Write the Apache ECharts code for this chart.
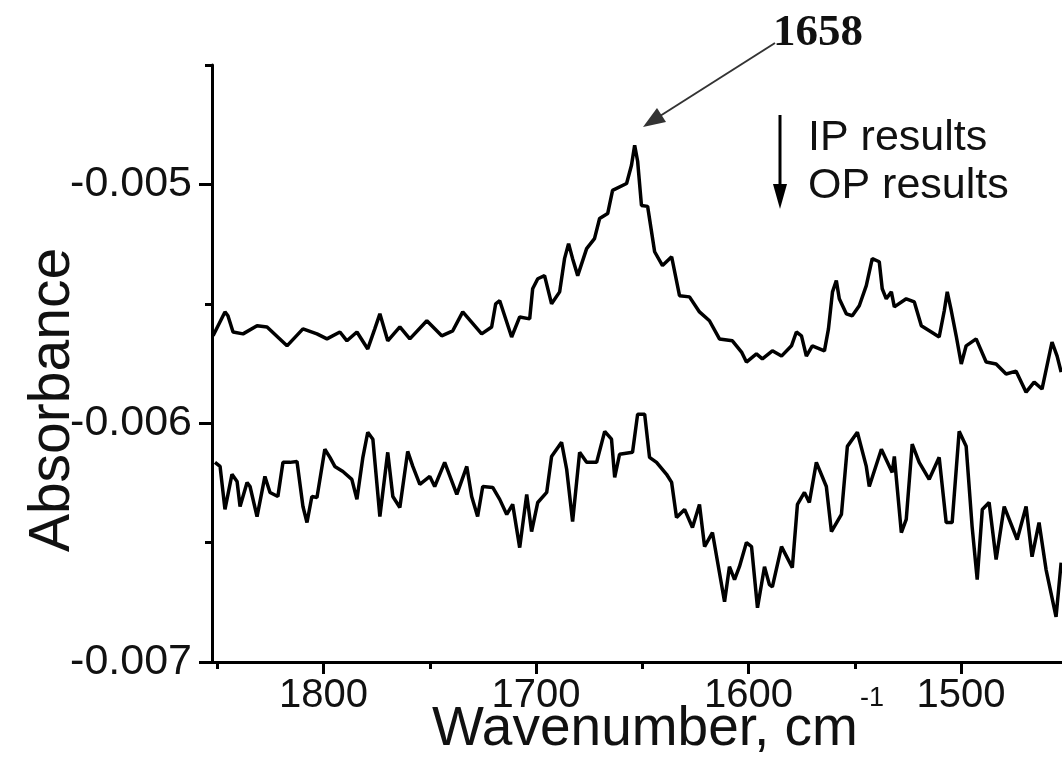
<!DOCTYPE html>
<html>
<head>
<meta charset="utf-8">
<script src="https://cdn.jsdelivr.net/npm/echarts@6/dist/echarts.min.js"></script>
<style>
html, body { margin: 0; padding: 0; background: #fff; }
#main { width: 1062px; height: 761px; }
</style>
</head>
<body>
<div id="main"></div>
<script>
// IP results (upper trace)
var ipWave = [1852.0, 1846.4, 1845.0, 1842.6, 1837.9, 1831.3, 1826.6, 1817.2, 1809.7, 1803.1,
    1798.4, 1792.3, 1789.0, 1784.3, 1779.2, 1775.9, 1773.5, 1769.8, 1764.1, 1759.4,
    1751.4, 1744.4, 1739.2, 1734.5, 1725.6, 1720.9, 1719.0, 1717.1, 1711.5, 1707.7,
    1703.0, 1701.6, 1699.2, 1696.0, 1692.7, 1688.9, 1686.6, 1684.7, 1682.8, 1680.4,
    1676.2, 1672.5, 1670.1, 1666.3, 1664.0, 1657.4, 1655.1, 1653.6, 1652.2, 1650.4,
    1647.5, 1644.2, 1640.5, 1636.2, 1632.5, 1627.8, 1623.1, 1618.4, 1613.7, 1607.6,
    1603.3, 1601.0, 1596.3, 1593.5, 1588.8, 1584.5, 1579.8, 1577.5, 1575.1, 1572.8,
    1570.0, 1564.3, 1562.4, 1560.5, 1558.7, 1557.3, 1554.0, 1551.2, 1547.9, 1544.6,
    1541.8, 1538.5, 1537.1, 1535.2, 1532.8, 1531.4, 1525.8, 1522.0, 1518.7, 1514.0,
    1510.3, 1507.9, 1506.5, 1504.6, 1502.3, 1499.9, 1497.6, 1492.9, 1488.2, 1483.5,
    1478.8, 1474.1, 1469.4, 1465.6, 1461.9, 1457.2, 1454.8, 1452.9];
var ipAbs = [-0.005634, -0.005534, -0.005550, -0.005618, -0.005626, -0.005592, -0.005597, -0.005676, -0.005605, -0.005626,
    -0.005647, -0.005618, -0.005655, -0.005618, -0.005689, -0.005605, -0.005542, -0.005655, -0.005597, -0.005647,
    -0.005571, -0.005634, -0.005613, -0.005534, -0.005626, -0.005597, -0.005500, -0.005487, -0.005639, -0.005555,
    -0.005563, -0.005437, -0.005395, -0.005382, -0.005500, -0.005450, -0.005311, -0.005248, -0.005311, -0.005382,
    -0.005269, -0.005227, -0.005143, -0.005122, -0.005025, -0.004996, -0.004920, -0.004836, -0.004903, -0.005088,
    -0.005092, -0.005282, -0.005340, -0.005303, -0.005466, -0.005471, -0.005534, -0.005571, -0.005647, -0.005655,
    -0.005702, -0.005744, -0.005710, -0.005731, -0.005697, -0.005719, -0.005676, -0.005618, -0.005634, -0.005719,
    -0.005676, -0.005697, -0.005605, -0.005450, -0.005403, -0.005479, -0.005542, -0.005550, -0.005508, -0.005424,
    -0.005311, -0.005324, -0.005437, -0.005479, -0.005450, -0.005513, -0.005479, -0.005492, -0.005592, -0.005618,
    -0.005639, -0.005529, -0.005450, -0.005529, -0.005634, -0.005752, -0.005676, -0.005647, -0.005744, -0.005752,
    -0.005794, -0.005782, -0.005870, -0.005828, -0.005857, -0.005660, -0.005719, -0.005786];

// OP results (lower trace)
var opWave = [1851.1, 1848.7, 1846.4, 1843.1, 1840.7, 1839.3, 1836.0, 1834.6, 1831.3, 1827.6,
    1825.2, 1821.5, 1819.1, 1815.8, 1812.5, 1809.7, 1807.8, 1805.5, 1803.1, 1799.4,
    1797.0, 1794.7, 1790.9, 1786.7, 1784.3, 1781.5, 1779.2, 1776.8, 1773.5, 1769.8,
    1767.4, 1764.1, 1760.4, 1758.0, 1754.7, 1750.0, 1747.7, 1743.0, 1737.3, 1732.6,
    1730.3, 1727.5, 1725.1, 1720.4, 1717.1, 1713.8, 1711.0, 1707.7, 1704.4, 1702.1,
    1699.2, 1695.0, 1692.7, 1688.0, 1685.6, 1682.8, 1679.5, 1676.2, 1671.5, 1667.7,
    1664.5, 1663.0, 1660.7, 1654.6, 1652.2, 1648.9, 1646.6, 1643.3, 1638.6, 1636.2,
    1633.9, 1630.1, 1626.4, 1623.1, 1620.7, 1617.0, 1614.6, 1611.3, 1609.0, 1606.6,
    1604.3, 1601.0, 1598.6, 1595.8, 1592.5, 1590.2, 1588.8, 1584.5, 1579.4, 1577.0,
    1573.7, 1571.4, 1568.1, 1563.4, 1561.0, 1556.3, 1553.5, 1548.8, 1544.6, 1543.2,
    1537.5, 1532.4, 1531.4, 1528.1, 1525.8, 1523.0, 1519.7, 1515.0, 1510.3, 1507.0,
    1504.2, 1500.9, 1497.6, 1494.8, 1492.4, 1490.0, 1486.8, 1483.5, 1479.7, 1473.6,
    1469.4, 1466.6, 1463.3, 1460.0, 1455.3, 1452.9];
var opAbs = [-0.006164, -0.006181, -0.006361, -0.006214, -0.006244, -0.006349, -0.006248, -0.006265, -0.006391, -0.006223,
    -0.006290, -0.006307, -0.006164, -0.006164, -0.006160, -0.006349, -0.006416, -0.006307, -0.006311, -0.006109,
    -0.006143, -0.006181, -0.006202, -0.006235, -0.006319, -0.006143, -0.006038, -0.006067, -0.006391, -0.006122,
    -0.006307, -0.006353, -0.006118, -0.006181, -0.006256, -0.006223, -0.006265, -0.006164, -0.006298, -0.006181,
    -0.006307, -0.006391, -0.006265, -0.006269, -0.006319, -0.006382, -0.006340, -0.006521, -0.006298, -0.006454,
    -0.006332, -0.006290, -0.006139, -0.006080, -0.006193, -0.006412, -0.006122, -0.006164, -0.006164, -0.006034,
    -0.006067, -0.006227, -0.006130, -0.006122, -0.005962, -0.005962, -0.006143, -0.006164, -0.006214, -0.006248,
    -0.006395, -0.006361, -0.006437, -0.006340, -0.006517, -0.006458, -0.006580, -0.006748, -0.006601, -0.006655,
    -0.006601, -0.006500, -0.006517, -0.006773, -0.006601, -0.006676, -0.006685, -0.006517, -0.006605, -0.006340,
    -0.006290, -0.006332, -0.006164, -0.006265, -0.006454, -0.006382, -0.006097, -0.006038, -0.006181, -0.006265,
    -0.006109, -0.006206, -0.006139, -0.006458, -0.006403, -0.006088, -0.006164, -0.006235, -0.006143, -0.006416,
    -0.006416, -0.006034, -0.006097, -0.006433, -0.006655, -0.006361, -0.006332, -0.006571, -0.006349, -0.006487,
    -0.006349, -0.006559, -0.006416, -0.006613, -0.006811, -0.006584];

var xMajor = [1800, 1700, 1600, 1500];
var xMinor = [1850, 1750, 1650, 1550];
var yMajor = [-0.007, -0.006, -0.005];
var yMinor = [-0.0065, -0.0055, -0.0045];

function pairs(xs, ys) {
    var out = [];
    for (var i = 0; i < xs.length; i++) out.push([xs[i], ys[i]]);
    return out;
}

var FONT = "'Liberation Sans', Arial, sans-serif";
var SERIF = "'Liberation Serif', 'Times New Roman', serif";
var myChart = echarts.init(document.getElementById('main'));

// one tick-only axis (no line, no labels)
function tickAxis(base, values, len) {
    return Object.assign({}, base, {
        axisLine: { show: false },
        axisTick: { show: true, length: len, customValues: values,
            lineStyle: { color: '#000', width: 3 } },
        axisLabel: { show: false },
        splitLine: { show: false }
    });
}

var xBase = { type: 'value', gridIndex: 0, position: 'bottom',
    min: 1452.5, max: 1852.5, inverse: true };
var yBase = { type: 'value', gridIndex: 0, position: 'left',
    min: -0.007, max: -0.0045 };

option = {
    animation: false,
    backgroundColor: '#fff',
    grid: { left: 212, right: 0, top: 65, bottom: 99, outerBoundsMode: 'none' },
    xAxis: [
        Object.assign({}, xBase, {
            axisLine: { show: true, lineStyle: { color: '#000', width: 3 } },
            axisTick: { show: false },
            splitLine: { show: false },
            axisLabel: { show: true, customValues: xMajor, margin: 14,
                color: '#111', fontSize: 40, fontFamily: FONT,
                formatter: function (v) { return String(v); } }
        }),
        tickAxis(xBase, xMajor, 12),
        tickAxis(xBase, xMinor, 7)
    ],
    yAxis: [
        Object.assign({}, yBase, {
            axisLine: { show: true, lineStyle: { color: '#000', width: 3 } },
            axisTick: { show: false },
            splitLine: { show: false },
            axisLabel: { show: true, customValues: yMajor, margin: 20,
                color: '#111', fontSize: 43, fontFamily: FONT,
                formatter: function (v) { return v.toFixed(3); } }
        }),
        tickAxis(yBase, yMajor, 13),
        tickAxis(yBase, yMinor, 7)
    ],
    series: [
        {
            name: 'IP results',
            type: 'line',
            data: pairs(ipWave, ipAbs),
            showSymbol: false,
            lineStyle: { color: '#000', width: 3.5 }
        },
        {
            name: 'OP results',
            type: 'line',
            data: pairs(opWave, opAbs),
            showSymbol: false,
            lineStyle: { color: '#000', width: 3.5 }
        }
    ],
    graphic: [
        // axis titles
        { type: 'text', x: 53, y: 400, rotation: Math.PI / 2,
          style: { text: 'Absorbance', fill: '#111', font: '57px ' + FONT,
                   align: 'center', verticalAlign: 'middle' } },
        { type: 'text', left: 432, top: 702,
          style: { text: 'Wavenumber, cm', fill: '#111', font: '55px ' + FONT } },
        { type: 'text', left: 860, top: 685,
          style: { text: '-1', fill: '#111', font: '27px ' + FONT } },
        // peak annotation
        { type: 'text', left: 773, top: 11,
          style: { text: '1658', fill: '#111', font: 'bold 45px ' + SERIF } },
        { type: 'line', shape: { x1: 775, y1: 43, x2: 660, y2: 116 },
          style: { stroke: '#333', lineWidth: 2 } },
        { type: 'polygon', shape: { points: [[643, 127], [666, 122], [657, 108]] },
          style: { fill: '#333' } },
        // legend arrow and texts
        { type: 'line', shape: { x1: 780, y1: 115, x2: 780, y2: 190 },
          style: { stroke: '#000', lineWidth: 3 } },
        { type: 'polygon', shape: { points: [[780, 209], [773, 184], [787, 184]] },
          style: { fill: '#000' } },
        { type: 'text', left: 808, top: 117,
          style: { text: 'IP results', fill: '#111', font: '43px ' + FONT } },
        { type: 'text', left: 808, top: 165,
          style: { text: 'OP results', fill: '#111', font: '43px ' + FONT } }
    ]
};

myChart.setOption(option);
</script>
</body>
</html>
